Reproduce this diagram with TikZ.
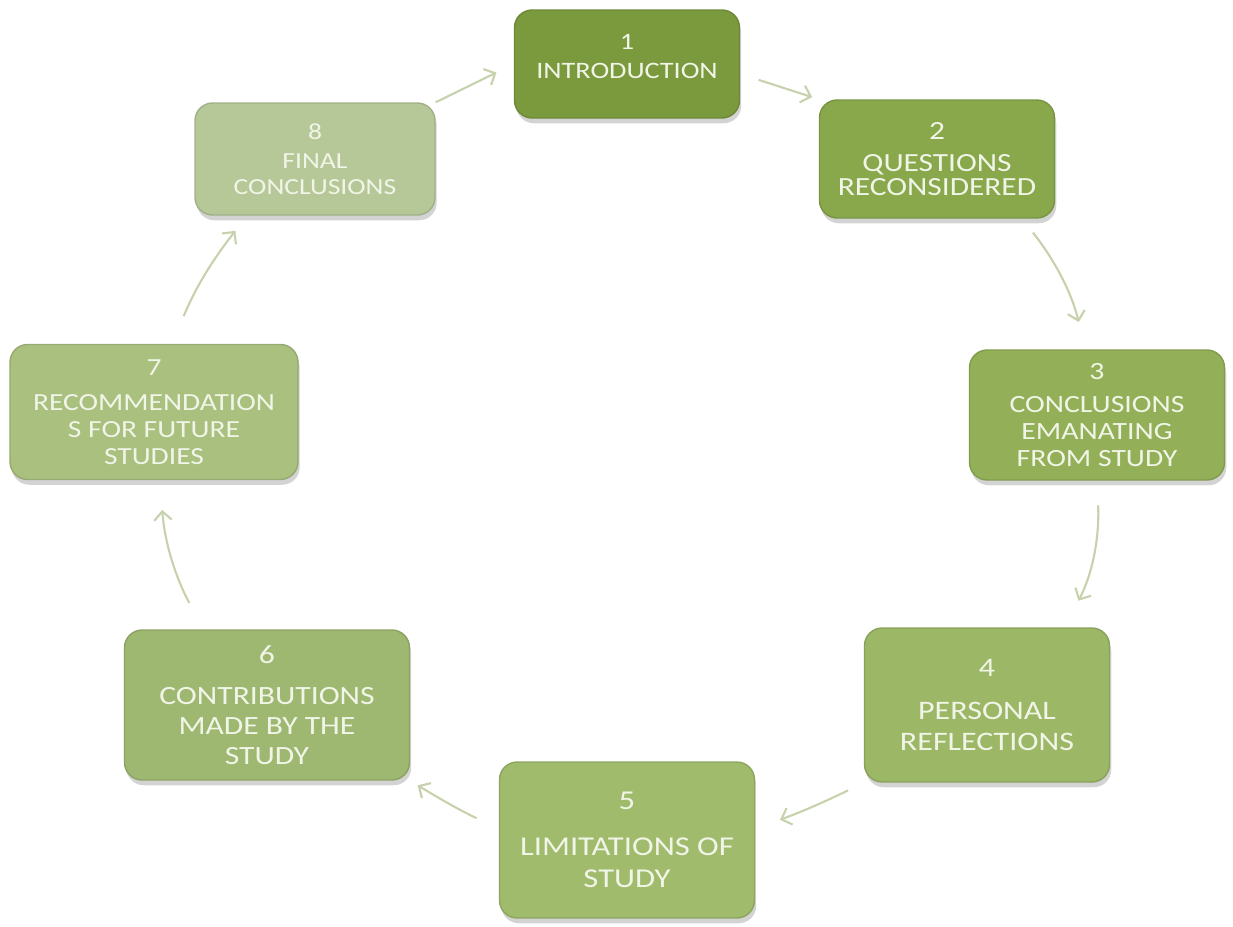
\documentclass[tikz,border=0pt]{standalone}
\usepackage{fontspec}
\setmainfont{Carlito}[FakeStretch=1.2]
\usepackage{tikz}
\usetikzlibrary{shapes,arrows.meta,positioning,calc,shadows}

\definecolor{stepA}{HTML}{7B9A3D}
\definecolor{stepB}{HTML}{88A84B}
\definecolor{stepC}{HTML}{93B058}
\definecolor{stepD}{HTML}{9CB766}
\definecolor{stepE}{HTML}{A0BB6C}
\definecolor{stepF}{HTML}{9EB871}
\definecolor{stepG}{HTML}{A9C07F}
\definecolor{stepH}{HTML}{B6C898}
\definecolor{boxtext}{HTML}{F1F5E8}
\definecolor{arrowgreen}{HTML}{C6D2AC}

\begin{document}
\begin{tikzpicture}[x=0.02cm, y=-0.02cm,
    stepbox/.style={draw=#1!88!black, line width=0.8pt, fill=#1, rounded corners=10pt,
        text=boxtext, align=center, inner sep=2pt,
        drop shadow={opacity=0.35, shadow xshift=1pt, shadow yshift=-3pt}},
    flow/.style={draw=arrowgreen, line width=1.2pt, -{Straight Barb[length=5pt,width=10pt]}}]

    \useasboundingbox (0, 0) rectangle (1233, 926);

    % Steps
    \node [stepbox=stepA, minimum width=4.5cm, minimum height=2.16cm, font=\fontsize{13.4}{16.4}\selectfont]
        (n1) at (627, 64) {1\\INTRODUCTION\\[-8pt]};
    \node [stepbox=stepB, minimum width=4.7cm, minimum height=2.36cm, font=\fontsize{14.9}{13.6}\selectfont]
        (n2) at (937, 159) {2\\[4.5pt]QUESTIONS\\RECONSIDERED};
    \node [stepbox=stepC, minimum width=5.1cm, minimum height=2.6cm, font=\fontsize{14.1}{15.3}\selectfont]
        (n3) at (1097, 415) {3\\[3.4pt]CONCLUSIONS\\EMANATING\\FROM STUDY};
    \node [stepbox=stepD, minimum width=4.9cm, minimum height=3.08cm, font=\fontsize{15.2}{18}\selectfont]
        (n4) at (987, 705) {4\\[6.4pt]PERSONAL\\REFLECTIONS};
    \node [stepbox=stepE, minimum width=5.1cm, minimum height=3.12cm, font=\fontsize{15.5}{18}\selectfont]
        (n5) at (627, 840) {5\\[8pt]LIMITATIONS OF\\STUDY};
    \node [stepbox=stepF, minimum width=5.7cm, minimum height=3.0cm, font=\fontsize{15}{17}\selectfont]
        (n6) at (267, 705) {6\\[6.8pt]CONTRIBUTIONS\\MADE BY THE\\STUDY};
    \node [stepbox=stepG, minimum width=5.76cm, minimum height=2.7cm, font=\fontsize{14}{15.3}\selectfont]
        (n7) at (154, 412) {7\\[5pt]RECOMMENDATION\\S FOR FUTURE\\STUDIES};
    \node [stepbox=stepH, minimum width=4.8cm, minimum height=2.24cm, font=\fontsize{13.1}{14.7}\selectfont]
        (n8) at (315, 159) {8\\[1.7pt]FINAL\\CONCLUSIONS};

    % Cycle
    \draw [flow, shorten <=11pt, shorten >=4pt] (n1.-5) -- (n2.north west);
    \draw [flow, shorten <=10pt, shorten >=16pt] (n2.-35) to [bend left=12] (n3.100);
    \draw [flow, shorten <=14pt, shorten >=17pt] (n3.-90) to [bend left=15] (n4.45);
    \draw [flow, shorten <=10pt, shorten >=15pt] (n4.south west) to [bend left=3] (n5.5);
    \draw [flow, shorten <=14pt, shorten >=5pt] (n5.175) to [bend left=3] (n6.south east);
    \draw [flow, shorten <=17pt, shorten >=17pt] (n6.130) to [bend left=12] (n7.-85);
    \draw [flow, shorten <=17pt, shorten >=11pt] (n7.75) to [bend left=8] (n8.-140);
    \draw [flow, shorten <=0pt, shorten >=11pt] (n8.north east) -- (n1.west);
\end{tikzpicture}
\end{document}
